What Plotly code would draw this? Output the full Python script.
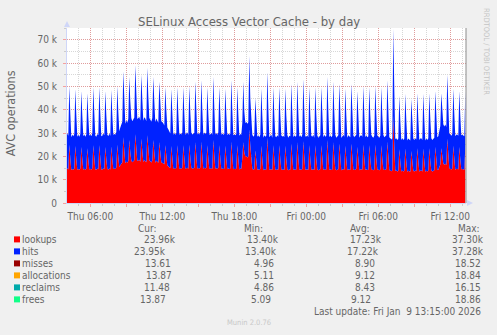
import plotly.graph_objects as go
import pandas as pd

# ---------------- data (thousands of operations per second, 5-minute samples) ----------------
# one row per hour: Thu 04:00 ... Fri 13:15
lookups_k = [
    14.3, 14.9, 14.4, 25.0, 19.2, 14.1, 14.6, 14.3, 14.8, 24.4, 18.9, 14.2,  # Thu 04
    14.6, 14.2, 14.8, 24.0, 18.8, 14.3, 14.7, 14.2, 14.6, 23.5, 18.6, 14.4,  # Thu 05
    14.7, 14.3, 14.9, 24.8, 19.3, 14.4, 14.2, 14.8, 14.5, 24.8, 19.3, 14.3,  # Thu 06
    14.4, 14.9, 14.5, 24.0, 18.9, 14.7, 14.3, 14.9, 14.4, 24.2, 19.0, 14.6,  # Thu 07
    14.8, 14.6, 15.2, 25.0, 19.6, 15.4, 16.2, 17.1, 17.4, 28.2, 22.3, 17.0,  # Thu 08
    17.7, 17.2, 18.0, 27.0, 21.8, 18.2, 17.5, 18.1, 18.3, 29.5, 23.1, 18.0,  # Thu 09
    18.2, 18.5, 17.7, 27.5, 22.3, 17.6, 18.4, 18.1, 17.5, 29.0, 23.0, 18.2,  # Thu 10
    17.9, 17.4, 18.2, 27.0, 21.8, 17.3, 18.1, 17.5, 17.2, 26.0, 21.2, 17.5,  # Thu 11
    17.3, 17.1, 16.6, 24.8, 20.0, 16.2, 15.8, 15.3, 14.9, 24.4, 19.1, 14.6,  # Thu 12
    15.0, 14.6, 15.0, 24.8, 19.3, 14.6, 14.9, 14.7, 15.1, 24.8, 19.3, 14.6,  # Thu 13
    14.9, 15.1, 14.6, 25.0, 19.5, 15.1, 14.7, 14.9, 15.0, 26.0, 20.1, 14.7,  # Thu 14
    15.0, 14.7, 15.2, 26.3, 20.1, 14.6, 15.1, 14.8, 15.0, 24.8, 19.3, 14.7,  # Thu 15
    14.7, 15.0, 14.6, 27.0, 20.4, 14.7, 15.0, 14.6, 15.1, 24.8, 19.3, 14.6,  # Thu 16
    14.9, 14.6, 14.8, 24.5, 19.1, 14.5, 14.9, 14.6, 14.8, 26.3, 19.9, 14.5,  # Thu 17
    14.7, 14.5, 14.8, 24.8, 19.2, 14.4, 14.8, 14.6, 19.3, 26.0, 21.8, 19.9,  # Thu 18
    20.1, 19.5, 19.9, 31.5, 24.8, 19.3, 14.7, 14.2, 14.5, 22.5, 17.9, 14.2,  # Thu 19
    14.5, 14.1, 14.6, 24.5, 18.8, 14.0, 14.5, 14.2, 14.4, 28.0, 20.5, 14.1,  # Thu 20
    14.4, 14.6, 14.0, 24.8, 18.9, 14.3, 14.1, 14.5, 14.2, 24.8, 18.9, 14.5,  # Thu 21
    14.2, 14.4, 14.1, 24.5, 18.8, 14.6, 14.0, 14.4, 14.3, 25.5, 19.3, 14.1,  # Thu 22
    14.5, 14.2, 14.4, 26.0, 19.5, 14.2, 14.5, 14.1, 14.6, 26.5, 19.7, 14.3,  # Thu 23
    14.2, 14.5, 14.1, 24.8, 18.9, 14.4, 14.2, 14.6, 14.0, 24.8, 18.9, 14.5,  # Fri 00
    14.0, 14.4, 14.5, 24.8, 18.9, 14.1, 14.6, 14.2, 14.4, 27.0, 20.0, 14.1,  # Fri 01
    14.5, 14.1, 14.4, 26.0, 19.5, 14.6, 14.0, 14.4, 14.5, 25.5, 19.2, 14.0,  # Fri 02
    14.2, 14.6, 14.2, 24.5, 18.8, 14.0, 14.5, 14.3, 14.1, 25.5, 19.2, 14.5,  # Fri 03
    14.1, 14.4, 14.6, 24.0, 18.6, 14.0, 14.4, 14.5, 14.2, 25.0, 19.1, 14.1,  # Fri 04
    14.5, 14.1, 14.3, 24.8, 18.9, 14.6, 14.2, 14.0, 14.4, 25.0, 19.1, 14.5,  # Fri 05
    14.2, 14.0, 14.4, 24.8, 18.9, 14.6, 14.1, 14.4, 14.5, 26.3, 19.6, 14.1,  # Fri 06
    13.9, 13.6, 13.9, 37.3, 24.2, 13.7, 13.9, 13.5, 13.8, 23.0, 17.8, 13.5,  # Fri 07
    13.9, 13.5, 13.8, 23.4, 17.8, 13.4, 13.8, 13.6, 13.4, 22.3, 17.3, 13.8,  # Fri 08
    13.5, 13.9, 13.6, 23.5, 18.1, 13.5, 13.8, 13.9, 13.5, 23.4, 18.0, 13.4,  # Fri 09
    13.8, 13.5, 13.9, 23.5, 18.1, 13.9, 13.5, 13.8, 14.0, 24.0, 18.5, 14.1,  # Fri 10
    14.3, 15.9, 16.5, 23.5, 19.7, 16.9, 16.4, 16.8, 16.3, 27.5, 21.2, 14.9,  # Fri 11
    14.7, 14.4, 14.8, 24.5, 19.1, 14.3, 14.6, 14.7, 14.4, 24.0, 18.7, 14.5,  # Fri 12
    14.6, 14.5, 14.3, 23.96,                                                 # Fri 13
]

hits_k = [
    14.3, 14.9, 14.4, 25.0, 19.2, 14.1, 14.6, 14.3, 14.8, 24.4, 18.9, 14.2,  # Thu 04
    14.6, 14.2, 14.8, 24.0, 18.8, 14.3, 14.7, 14.2, 14.6, 23.5, 18.6, 14.4,  # Thu 05
    14.7, 14.3, 14.9, 24.8, 19.3, 14.4, 14.2, 14.8, 14.5, 24.8, 19.3, 14.3,  # Thu 06
    14.4, 14.9, 14.5, 24.0, 18.9, 14.7, 14.3, 14.9, 14.4, 24.2, 19.0, 14.6,  # Thu 07
    14.8, 14.6, 15.2, 25.0, 19.6, 15.4, 16.2, 17.1, 17.4, 28.2, 22.3, 17.0,  # Thu 08
    17.7, 17.2, 18.0, 27.0, 21.8, 18.2, 17.5, 18.1, 18.3, 29.5, 23.1, 18.0,  # Thu 09
    18.2, 18.5, 17.7, 27.5, 22.3, 17.6, 18.4, 18.1, 17.5, 29.0, 23.0, 18.2,  # Thu 10
    17.9, 17.4, 18.2, 27.0, 21.8, 17.3, 18.1, 17.5, 17.2, 26.0, 21.2, 17.5,  # Thu 11
    17.3, 17.1, 16.6, 24.8, 20.0, 16.2, 15.8, 15.3, 14.9, 24.4, 19.1, 14.6,  # Thu 12
    15.0, 14.6, 15.0, 24.8, 19.3, 14.6, 14.9, 14.7, 15.1, 24.8, 19.3, 14.6,  # Thu 13
    14.9, 15.1, 14.6, 25.0, 19.5, 15.1, 14.7, 14.9, 15.0, 26.0, 20.1, 14.7,  # Thu 14
    15.0, 14.7, 15.2, 26.3, 20.1, 14.6, 15.1, 14.8, 15.0, 24.8, 19.3, 14.7,  # Thu 15
    14.7, 15.0, 14.6, 27.0, 20.4, 14.7, 15.0, 14.6, 15.1, 24.8, 19.3, 14.6,  # Thu 16
    14.9, 14.6, 14.8, 24.5, 19.1, 14.5, 14.9, 14.6, 14.8, 26.3, 19.9, 14.5,  # Thu 17
    14.7, 14.5, 14.8, 24.8, 19.2, 14.4, 14.8, 14.6, 15.0, 26.0, 17.5, 14.4,  # Thu 18
    14.6, 14.5, 14.7, 31.5, 20.0, 14.5, 14.7, 14.2, 14.5, 22.5, 17.9, 14.2,  # Thu 19
    14.5, 14.1, 14.6, 24.5, 18.8, 14.0, 14.5, 14.2, 14.4, 28.0, 20.5, 14.1,  # Thu 20
    14.4, 14.6, 14.0, 24.8, 18.9, 14.3, 14.1, 14.5, 14.2, 24.8, 18.9, 14.5,  # Thu 21
    14.2, 14.4, 14.1, 24.5, 18.8, 14.6, 14.0, 14.4, 14.3, 25.5, 19.3, 14.1,  # Thu 22
    14.5, 14.2, 14.4, 26.0, 19.5, 14.2, 14.5, 14.1, 14.6, 26.5, 19.7, 14.3,  # Thu 23
    14.2, 14.5, 14.1, 24.8, 18.9, 14.4, 14.2, 14.6, 14.0, 24.8, 18.9, 14.5,  # Fri 00
    14.0, 14.4, 14.5, 24.8, 18.9, 14.1, 14.6, 14.2, 14.4, 27.0, 20.0, 14.1,  # Fri 01
    14.5, 14.1, 14.4, 26.0, 19.5, 14.6, 14.0, 14.4, 14.5, 25.5, 19.2, 14.0,  # Fri 02
    14.2, 14.6, 14.2, 24.5, 18.8, 14.0, 14.5, 14.3, 14.1, 25.5, 19.2, 14.5,  # Fri 03
    14.1, 14.4, 14.6, 24.0, 18.6, 14.0, 14.4, 14.5, 14.2, 25.0, 19.1, 14.1,  # Fri 04
    14.5, 14.1, 14.3, 24.8, 18.9, 14.6, 14.2, 14.0, 14.4, 25.0, 19.1, 14.5,  # Fri 05
    14.2, 14.0, 14.4, 24.8, 18.9, 14.6, 14.1, 14.4, 14.5, 26.3, 19.6, 14.1,  # Fri 06
    13.9, 13.6, 13.9, 37.28, 24.2, 13.7, 13.9, 13.5, 13.8, 23.0, 17.8, 13.5, # Fri 07
    13.9, 13.5, 13.8, 23.4, 17.8, 13.4, 13.8, 13.6, 13.4, 22.3, 17.3, 13.8,  # Fri 08
    13.5, 13.9, 13.6, 23.5, 18.1, 13.5, 13.8, 13.9, 13.5, 23.4, 18.0, 13.4,  # Fri 09
    13.8, 13.5, 13.9, 23.5, 18.1, 13.9, 13.5, 13.8, 14.0, 24.0, 18.5, 14.1,  # Fri 10
    14.3, 15.9, 16.5, 23.5, 19.7, 16.9, 16.4, 16.8, 16.3, 27.5, 21.2, 14.9,  # Fri 11
    14.7, 14.4, 14.8, 24.5, 19.1, 14.3, 14.6, 14.7, 14.4, 24.0, 18.7, 14.5,  # Fri 12
    14.6, 14.5, 14.3, 23.95,                                                 # Fri 13
]

first_sample = "2026-01-08 04:00"
sample_step = "5min"
x_range = ["2026-01-08 04:03:30", "2026-01-09 13:18:30"]

y_tick_vals = [0, 10000, 20000, 30000, 40000, 50000, 60000, 70000]
y_tick_text = ["0", "10 k", "20 k", "30 k", "40 k", "50 k", "60 k", "70 k"]
x_tick_vals = ["2026-01-08 06:00", "2026-01-08 09:00", "2026-01-08 12:00", "2026-01-08 15:00",
               "2026-01-08 18:00", "2026-01-08 21:00", "2026-01-09 00:00", "2026-01-09 03:00",
               "2026-01-09 06:00", "2026-01-09 09:00", "2026-01-09 12:00"]
x_tick_text = ["Thu 06:00", "", "Thu 12:00", "", "Thu 18:00", "", "Fri 00:00", "",
               "Fri 06:00", "", "Fri 12:00"]

series_names = ["lookups", "hits", "misses", "allocations", "reclaims", "frees"]
series_colors = ["#FF0000", "#0022FF", "#990000", "#FFA500", "#00AAAA", "#11FF88"]
cur_vals = ["23.96k", "23.95k", "13.61", "13.87", "11.48", "13.87"]
min_vals = ["13.40k", "13.40k", "4.96", "5.11", "4.86", "5.09"]
avg_vals = ["17.23k", "17.22k", "8.90", "9.12", "8.43", "9.12"]
max_vals = ["37.30k", "37.28k", "18.52", "18.84", "16.15", "18.86"]

title_text = "SELinux Access Vector Cache - by day"
y_label = "AVC operations"
last_update = "Last update: Fri Jan  9 13:15:00 2026"
footer = "Munin 2.0.76"
watermark = "RRDTOOL / TOBI OETIKER"

# ---------------- figure ----------------
W, H = 497, 335
PL, PR, PT, PB = 67, 466, 28, 203  # plot area in pixels
FONT = "DejaVu Sans Condensed, DejaVu Sans, sans-serif"
TXT = "#666666"


def px(xp):
    return (xp - PL) / (PR - PL)


def py(yp):
    return (PB - yp) / (PB - PT)


times = pd.date_range(first_sample, periods=len(lookups_k), freq=sample_step)

fig = go.Figure()
fig.add_trace(go.Scatter(
    x=times, y=[v * 1000 for v in lookups_k], mode="lines", stackgroup="avc",
    line=dict(width=0, color=series_colors[0]), fillcolor=series_colors[0],
    hoverinfo="skip", name=series_names[0]))
fig.add_trace(go.Scatter(
    x=times, y=[v * 1000 for v in hits_k], mode="lines", stackgroup="avc",
    line=dict(width=0, color=series_colors[1]), fillcolor=series_colors[1],
    hoverinfo="skip", name=series_names[1]))

MAJ = "rgba(240,60,60,0.38)"
MIN = "rgba(130,130,130,0.32)"

fig.update_layout(
    width=W, height=H,
    margin=dict(l=PL, r=W - PR, t=PT, b=H - PB, pad=0),
    paper_bgcolor="#F0F0F0", plot_bgcolor="#FFFFFF",
    showlegend=False,
    font=dict(family=FONT, size=10, color=TXT),
    xaxis=dict(
        type="date", range=x_range, tickmode="array", tickvals=x_tick_vals, ticktext=x_tick_text,
        showgrid=True, gridcolor=MAJ, gridwidth=1, griddash="1px,1px",
        ticks="outside", ticklen=3, tickcolor="#F4A0A0", tickwidth=1,
        showline=True, linecolor="#CFD6F8", linewidth=1,
        tickfont=dict(family=FONT, size=10, color=TXT),
        ticklabelstandoff=1,
        zeroline=False,
        minor=dict(dtick=3600000, tick0="2026-01-08 00:00", showgrid=True, gridcolor=MIN,
                   griddash="1px,1px", gridwidth=1, ticks="outside", ticklen=2, tickcolor="#CCCCCC"),
    ),
    yaxis=dict(
        range=[0, 75000], tickmode="array", tickvals=y_tick_vals, ticktext=y_tick_text,
        showgrid=True, gridcolor=MAJ, gridwidth=1, griddash="1px,1px",
        ticks="outside", ticklen=3, tickcolor="#F4A0A0",
        showline=True, linecolor="#CFD6F8", linewidth=1,
        tickfont=dict(family=FONT, size=10, color=TXT),
        ticklabelstandoff=4,
        zeroline=False,
        minor=dict(dtick=5000, tick0=0, showgrid=True, gridcolor=MIN, griddash="1px,1px",
                   gridwidth=1, ticks="outside", ticklen=2, tickcolor="#CCCCCC"),
    ),
)

ann = []
ann.append(dict(x=px(248.5), y=py(21.5), xref="paper", yref="paper", text=title_text,
                showarrow=False, xanchor="center", yanchor="middle",
                font=dict(family=FONT, size=13, color=TXT)))
ann.append(dict(x=px(10.8), y=py(113.5), xref="paper", yref="paper", text=y_label,
                showarrow=False, textangle=-90, xanchor="center", yanchor="middle",
                font=dict(family=FONT, size=12.5, color=TXT)))
ann.append(dict(x=px(487), y=py(51), xref="paper", yref="paper", text=watermark,
                showarrow=False, textangle=90, xanchor="center", yanchor="middle",
                font=dict(family=FONT, size=7.5, color="#C4C4C4")))

# legend table
header_y = 228.0
row_y = [239.4, 251.4, 263.4, 275.4, 287.4, 299.4]
cur_x = [142.7, 133.3, 144.0, 145.3, 143.3, 139.3]
min_x = [246.0, 243.5, 252.7, 252.7, 252.7, 249.5]
avg_x = [349.0, 346.0, 354.0, 354.0, 354.0, 350.0]
max_x = [451.0, 451.0, 454.0, 454.0, 454.0, 454.0]
for label, hx in (("Cur:", 136.7), ("Min:", 243.0), ("Avg:", 349.3), ("Max:", 456.7)):
    ann.append(dict(x=px(hx), y=py(header_y), xref="paper", yref="paper", text=label,
                    showarrow=False, xanchor="left", yanchor="middle", borderpad=0,
                    font=dict(family=FONT, size=10, color=TXT)))

shapes = []
for i, name in enumerate(series_names):
    yy = row_y[i]
    shapes.append(dict(type="rect", xref="paper", yref="paper",
                       x0=px(14), x1=px(20), y0=py(yy + 3), y1=py(yy - 3),
                       fillcolor=series_colors[i], line=dict(width=0)))
    ann.append(dict(x=px(20.5), y=py(yy), xref="paper", yref="paper", text=name,
                    showarrow=False, xanchor="left", yanchor="middle", borderpad=0,
                    font=dict(family=FONT, size=10, color=TXT)))
    for vals, xs in ((cur_vals, cur_x), (min_vals, min_x), (avg_vals, avg_x), (max_vals, max_x)):
        ann.append(dict(x=px(xs[i]), y=py(yy), xref="paper", yref="paper", text=vals[i],
                        showarrow=False, xanchor="left", yanchor="middle", borderpad=0,
                        font=dict(family=FONT, size=10, color=TXT)))

ann.append(dict(x=px(482.3), y=py(311.7), xref="paper", yref="paper", text=last_update,
                showarrow=False, xanchor="right", yanchor="middle", borderpad=0,
                font=dict(family=FONT, size=10, color=TXT)))
ann.append(dict(x=px(248.5), y=py(322.3), xref="paper", yref="paper", text=footer,
                showarrow=False, xanchor="center", yanchor="middle", borderpad=0,
                font=dict(family=FONT, size=7.5, color="#C8C8C8")))

# axis arrows and right border
shapes.append(dict(type="path", xref="paper", yref="paper",
                   path=f"M {px(64)},{py(27)} L {px(70)},{py(27)} L {px(67)},{py(21)} Z",
                   fillcolor="#CFD6F8", line=dict(width=0)))
shapes.append(dict(type="path", xref="paper", yref="paper",
                   path=f"M {px(467)},{py(200)} L {px(467)},{py(206)} L {px(473)},{py(203)} Z",
                   fillcolor="#CFD6F8", line=dict(width=0)))
shapes.append(dict(type="line", xref="paper", yref="paper", x0=1, x1=1, y0=0, y1=1,
                   line=dict(color="#8C8C8C", width=1)))

fig.update_layout(annotations=ann, shapes=shapes)
fig.write_html("out.html")
